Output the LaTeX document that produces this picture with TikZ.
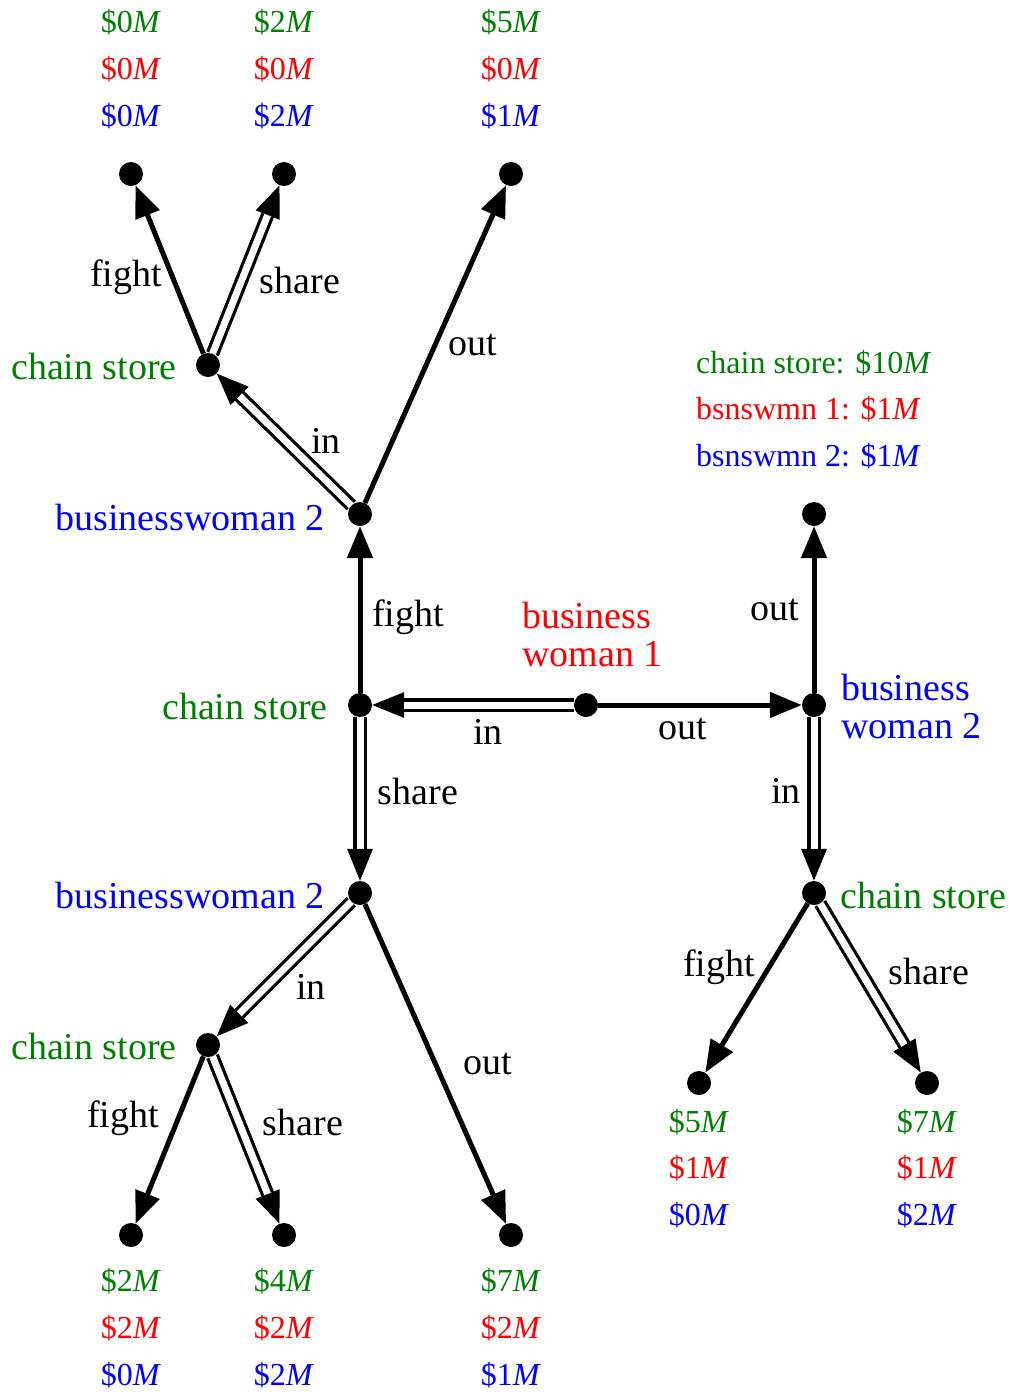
\documentclass[tikz,border=0pt]{standalone}
\usepackage{fontspec}
\setmainfont{Liberation Serif}
\usetikzlibrary{arrows.meta}
\definecolor{cgreen}{RGB}{0,128,0}
\definecolor{cred}{RGB}{255,0,0}
\definecolor{cblue}{RGB}{0,0,255}
\newcommand{\pM}[1]{\$#1\textit{M}}
\begin{document}
\begin{tikzpicture}[x=1pt,y=-1pt,
  dot/.style={circle,fill=black,inner sep=0pt,minimum size=24pt},
  single/.style={line width=5pt,-{Triangle[length=32pt,width=25pt]}},
  dtip/.style={line width=3.2pt,-{Triangle[length=32pt,width=25pt]}},
  dline/.style={double,line width=3.2pt,double distance=7pt,shorten >=32pt},
  dbl/.style={dtip,postaction={draw,dline,arrows=-}},
  lbl/.style={font=\fontsize{38}{38}\selectfont,inner sep=0pt},
  pay/.style={font=\fontsize{32}{32}\selectfont,inner sep=0pt},
]
\useasboundingbox (0,0) rectangle (1009,1393);
% decision and terminal nodes
\node[dot] (root) at (586,705) {};
\node[dot] (A) at (360,705) {};
\node[dot] (R) at (814,705) {};
\node[dot] (Rl) at (814,514) {};
\node[dot] (T) at (360,514) {};
\node[dot] (TC) at (208,365) {};
\node[dot] (Tl1) at (131,174) {};
\node[dot] (Tl2) at (284,174) {};
\node[dot] (Tl3) at (511,174) {};
\node[dot] (B) at (360,893) {};
\node[dot] (BC) at (208,1045) {};
\node[dot] (Bl1) at (131,1235) {};
\node[dot] (Bl2) at (284,1235) {};
\node[dot] (Bl3) at (511,1235) {};
\node[dot] (RC) at (814,893) {};
\node[dot] (Rl1) at (699,1083) {};
\node[dot] (Rl2) at (927,1083) {};
% edges
\draw[dbl] (root) -- (A);
\draw[single] (root) -- (R);
\draw[single] (A) -- (T);
\draw[dbl] (A) -- (B);
\draw[single] (R) -- (Rl);
\draw[dbl] (R) -- (RC);
\draw[dbl] (T) -- (TC);
\draw[single] (T) -- (Tl3);
\draw[single] (TC) -- (Tl1);
\draw[dbl] (TC) -- (Tl2);
\draw[dbl] (B) -- (BC);
\draw[single] (B) -- (Bl3);
\draw[single] (BC) -- (Bl1);
\draw[dbl] (BC) -- (Bl2);
\draw[single] (RC) -- (Rl1);
\draw[dbl] (RC) -- (Rl2);
% player labels
\node[lbl,text=cred,align=left,anchor=west] (l1) at (522,634) {business\\woman 1};
\node[lbl,text=cblue,align=left,anchor=west] (l2) at (841,706) {business\\woman 2};
\node[lbl,text=cgreen,anchor=east] (l3) at (328,706) {chain store};
\node[lbl,text=cblue,anchor=east] (l4) at (325,517) {businesswoman 2};
\node[lbl,text=cgreen,anchor=east] (l5) at (177,366) {chain store};
\node[lbl,text=cblue,anchor=east] (l6) at (325,895) {businesswoman 2};
\node[lbl,text=cgreen,anchor=east] (l7) at (177,1046) {chain store};
\node[lbl,text=cgreen,anchor=west] (l8) at (840,895) {chain store};
% edge labels
\node[lbl] (e1) at (126,277) {fight};
\node[lbl] (e2) at (300,280) {share};
\node[lbl] (e3) at (326,441) {in};
\node[lbl] (e4) at (473,345) {out};
\node[lbl] (e5) at (408,617) {fight};
\node[lbl] (e6) at (488,732) {in};
\node[lbl] (e7) at (683,729) {out};
\node[lbl] (e8) at (775,610) {out};
\node[lbl] (e9) at (418,791) {share};
\node[lbl] (e10) at (786,791) {in};
\node[lbl] (e11) at (311,987) {in};
\node[lbl] (e12) at (488,1064) {out};
\node[lbl] (e13) at (123,1118) {fight};
\node[lbl] (e14) at (303,1122) {share};
\node[lbl] (e15) at (719,967) {fight};
\node[lbl] (e16) at (929,971) {share};
% legend
\node[pay,text=cgreen,anchor=west] (g1) at (696,363) {chain store: \pM{10}};
\node[pay,text=cred,anchor=west] (g2) at (696,409) {bsnswmn 1: \pM{1}};
\node[pay,text=cblue,anchor=west] (g3) at (696,456) {bsnswmn 2: \pM{1}};
% payoffs top
\node[pay,text=cgreen] (p1a) at (131,22) {\pM{0}};
\node[pay,text=cred] (p1b) at (131,69) {\pM{0}};
\node[pay,text=cblue] (p1c) at (131,116) {\pM{0}};
\node[pay,text=cgreen] (p2a) at (284,22) {\pM{2}};
\node[pay,text=cred] (p2b) at (284,69) {\pM{0}};
\node[pay,text=cblue] (p2c) at (284,116) {\pM{2}};
\node[pay,text=cgreen] (p3a) at (511,22) {\pM{5}};
\node[pay,text=cred] (p3b) at (511,69) {\pM{0}};
\node[pay,text=cblue] (p3c) at (511,116) {\pM{1}};
% payoffs bottom
\node[pay,text=cgreen] (q1a) at (131,1281) {\pM{2}};
\node[pay,text=cred] (q1b) at (131,1328) {\pM{2}};
\node[pay,text=cblue] (q1c) at (131,1375) {\pM{0}};
\node[pay,text=cgreen] (q2a) at (284,1281) {\pM{4}};
\node[pay,text=cred] (q2b) at (284,1328) {\pM{2}};
\node[pay,text=cblue] (q2c) at (284,1375) {\pM{2}};
\node[pay,text=cgreen] (q3a) at (511,1281) {\pM{7}};
\node[pay,text=cred] (q3b) at (511,1328) {\pM{2}};
\node[pay,text=cblue] (q3c) at (511,1375) {\pM{1}};
% payoffs right
\node[pay,text=cgreen] (r1a) at (699,1122) {\pM{5}};
\node[pay,text=cred] (r1b) at (699,1168) {\pM{1}};
\node[pay,text=cblue] (r1c) at (699,1215) {\pM{0}};
\node[pay,text=cgreen] (r2a) at (927,1122) {\pM{7}};
\node[pay,text=cred] (r2b) at (927,1168) {\pM{1}};
\node[pay,text=cblue] (r2c) at (927,1215) {\pM{2}};
\end{tikzpicture}
\end{document}
